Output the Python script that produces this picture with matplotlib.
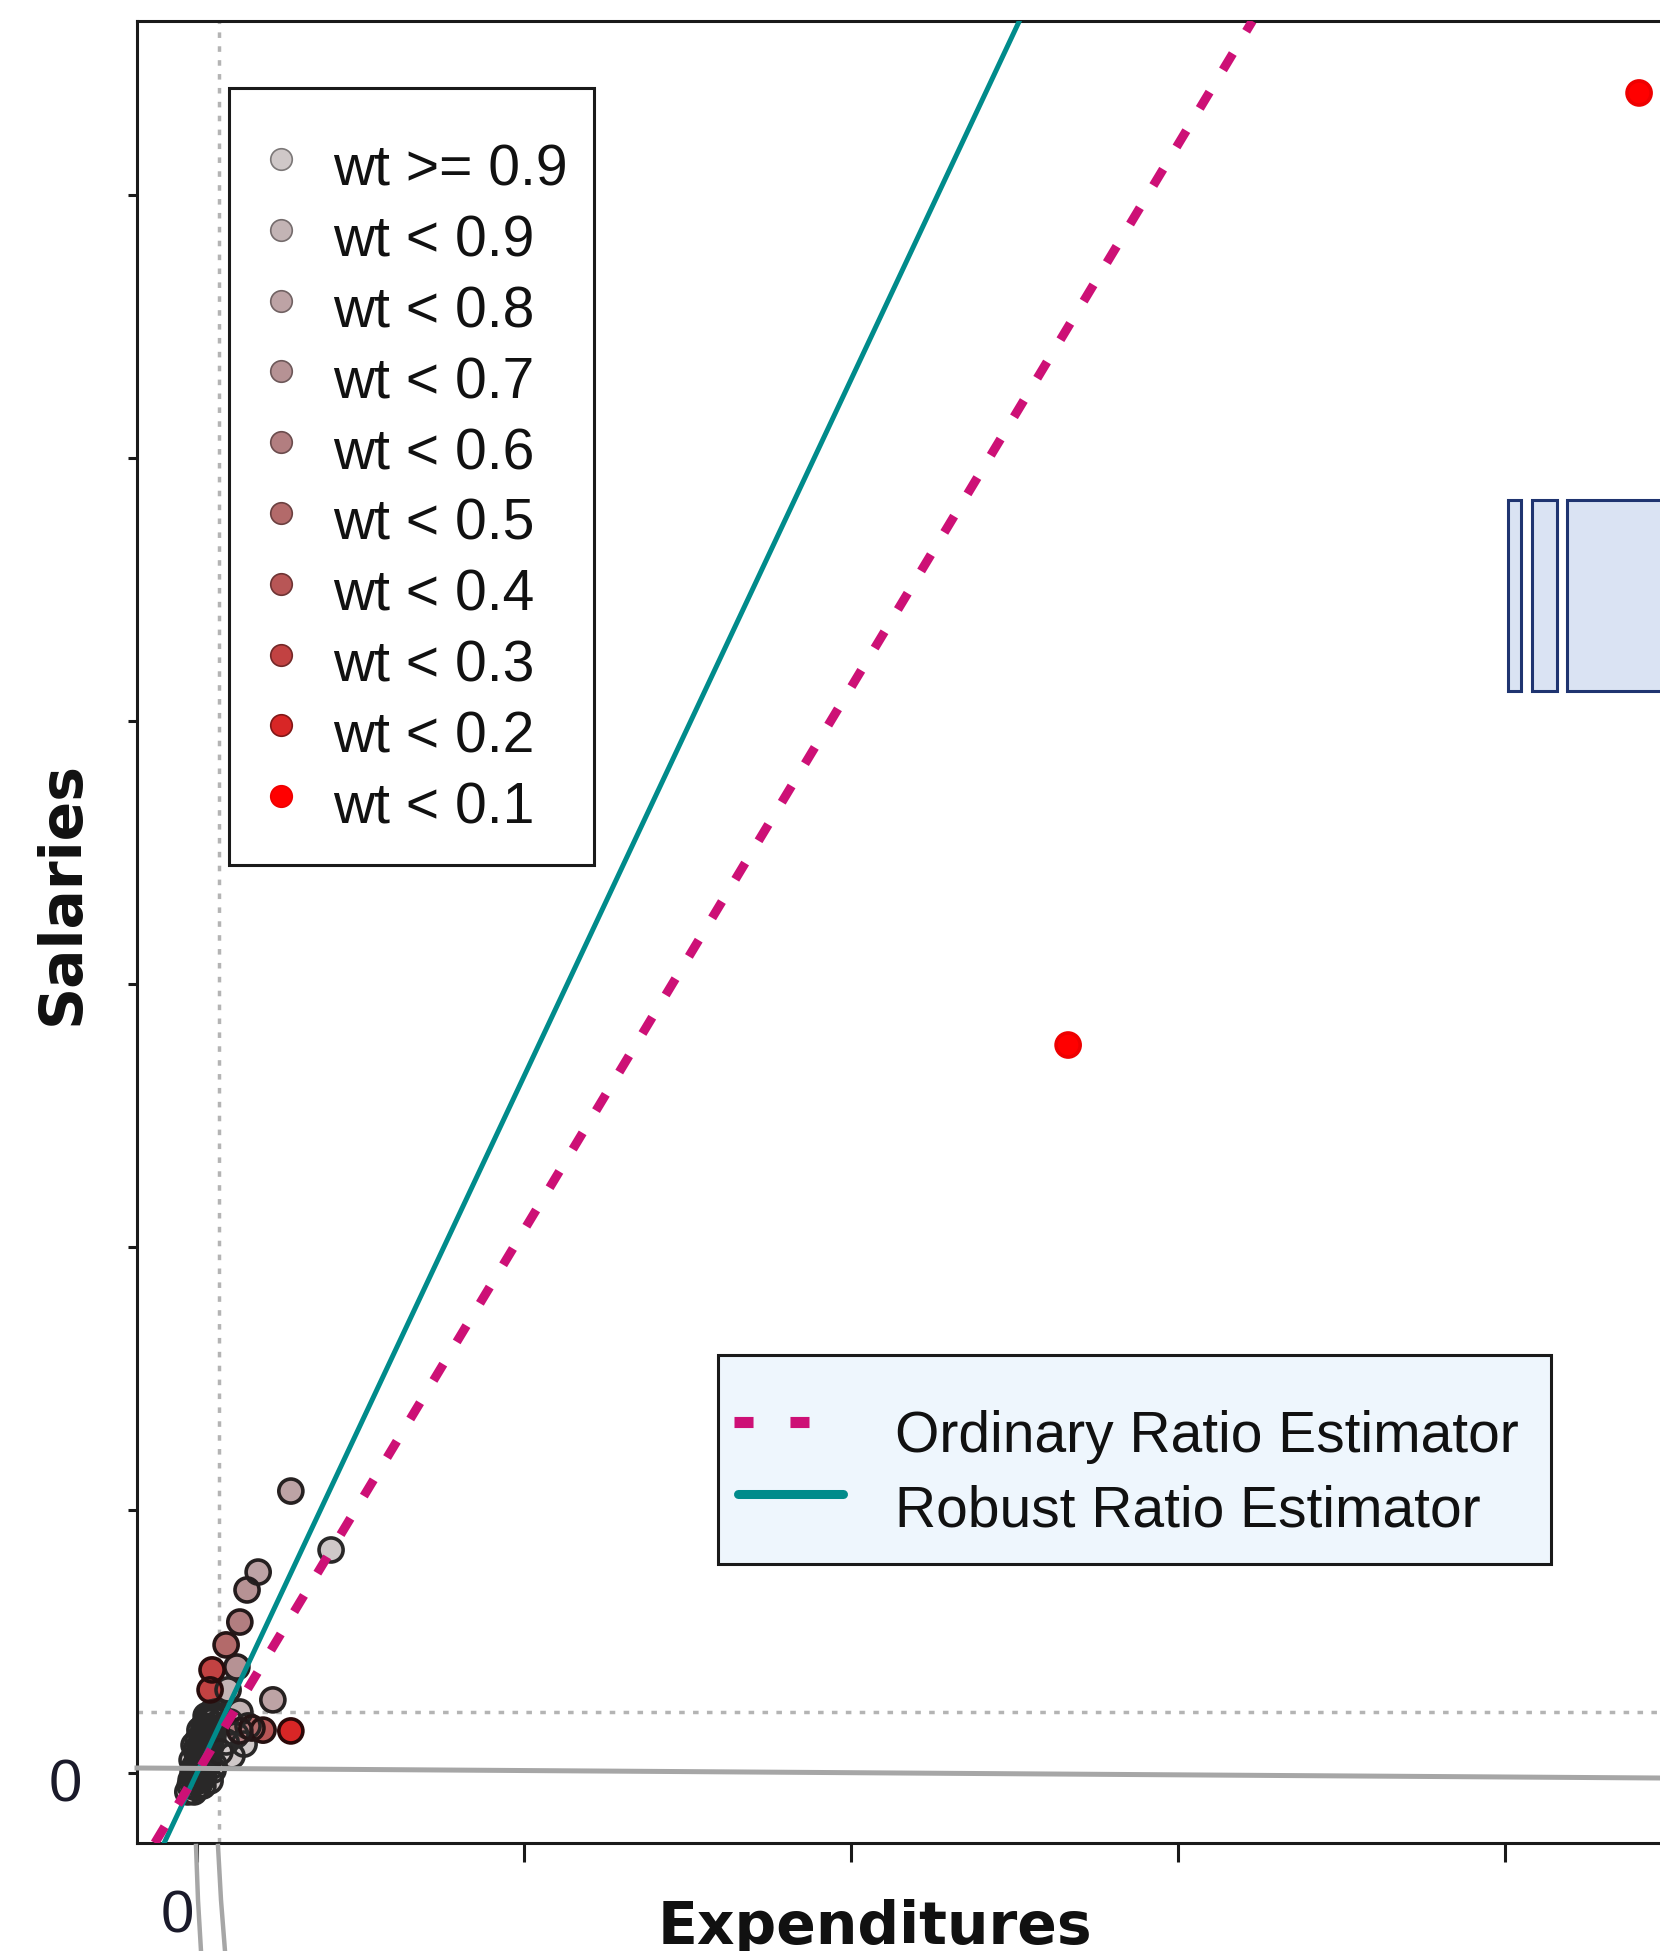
import matplotlib
matplotlib.use("Agg")
import matplotlib.pyplot as plt
import matplotlib.transforms as mtransforms
from matplotlib.lines import Line2D
from matplotlib.patches import Rectangle
import numpy as np

plt.rcParams['lines.scale_dashes'] = False

# ---- data (expenditures / salaries, in tick units) ----
weight_labels = ['wt >= 0.9', 'wt < 0.9', 'wt < 0.8', 'wt < 0.7', 'wt < 0.6',
                 'wt < 0.5', 'wt < 0.4', 'wt < 0.3', 'wt < 0.2', 'wt < 0.1']
weight_colors = ['#cfc8c8', '#c3b4b5', '#bda3a5', '#b69294', '#b27e80',
                 '#b36a6a', '#b85656', '#c24242', '#d82626', '#ff0000']

# small firms packed around the origin
cluster_x = [-0.003, 0.012, -0.012, 0.006, 0.021, -0.006, 0.012, 0.028, 0.003, 0.018,
             0.034, 0.009, 0.024, 0.040, 0.015, 0.031, 0.046, 0.021, 0.037, 0.052,
             0.028, 0.043, 0.058, -0.021, 0.000, 0.018, -0.015, -0.009,
             0.006, -0.009, 0.021, 0.000, 0.015, 0.031, 0.006, 0.021, 0.037, 0.012,
             0.028, 0.043, 0.018, 0.034, 0.049, 0.024, 0.040, 0.055, 0.031, 0.046,
             0.061, -0.018, -0.012, -0.003, 0.003, 0.009, -0.028, -0.009, 0.040, 0.049]
cluster_y = [-0.034, -0.027, -0.011, 0.004, 0.011, 0.027, 0.038, 0.049, 0.065, 0.080,
             0.087, 0.103, 0.118, 0.125, 0.141, 0.156, 0.163, 0.179, 0.194, 0.202,
             0.217, 0.228, 0.232, -0.049, -0.057, -0.049, 0.049, 0.106,
             -0.046, -0.023, -0.015, 0.015, 0.023, 0.030, 0.053, 0.061, 0.068, 0.091,
             0.099, 0.106, 0.129, 0.137, 0.144, 0.167, 0.175, 0.183, 0.205, 0.213,
             0.217, -0.027, 0.011, 0.087, 0.125, 0.163, -0.072, -0.072, -0.030, 0.011]
cluster_cls = [0] * len(cluster_x)

light_x = [0.101, 0.131, 0.119, 0.156, 0.089, 0.144, 0.070, 0.107, 0.052]
light_y = [0.194, 0.232, 0.144, 0.179, 0.118, 0.110, 0.080, 0.065, 0.030]
light_cls = [0, 1, 0, 1, 0, 0, 1, 0, 0]

other_x = [0.122, 0.095, 0.287, 0.410, 0.187, 0.153, 0.131, 0.089, 0.046, 0.040,
           0.232, 0.287, 0.202, 0.168, 0.131, 2.664, 4.410]
other_y = [0.403, 0.316, 1.072, 0.848, 0.764, 0.696, 0.574, 0.487, 0.392, 0.316,
           0.278, 0.160, 0.163, 0.171, 0.160, 2.768, 6.388]
other_cls = [3, 1, 2, 0, 2, 3, 4, 5, 7, 7, 2, 8, 6, 5, 4, 9, 9]

exp_x = np.array(cluster_x + light_x + other_x)
sal_y = np.array(cluster_y + light_y + other_y)
wt_cls = np.array(cluster_cls + light_cls + other_cls)

ratio_ordinary = 2.064
ratio_robust = 2.649
median_x = 0.067
median_y = 0.232

x_ticks = [0, 1, 2, 3, 4]
y_ticks = [0, 1, 2, 3, 4, 5, 6]

# ---- figure ----
W, H = 1660, 1951
fig = plt.figure(figsize=(W / 100, H / 100), dpi=100)


def fx(px):
    return px / W


def fy(py):
    return 1 - py / H


ax = fig.add_axes([fx(137), fy(1843), (W - 137) / W, (1843 - 21) / H])
ax.set_xlim(-60 / 327, (W - 197) / 327)
ax.set_ylim(-70 / 263, (1773 - 21) / 263)

for side in ['left', 'bottom', 'top']:
    ax.spines[side].set_linewidth(2.2)
    ax.spines[side].set_color('#1a1a1a')
ax.spines['right'].set_visible(False)

ax.set_xticks(x_ticks)
ax.set_xticklabels(['0'] + [''] * (len(x_ticks) - 1))
ax.set_yticks(y_ticks)
ax.set_yticklabels(['0'] + [''] * (len(y_ticks) - 1))
ax.tick_params(axis='x', length=13.5, width=2.2, pad=20, labelsize=43,
               color='#1a1a1a', labelcolor='#1a1a2a')
ax.tick_params(axis='y', length=6.5, width=2.2, pad=33, labelsize=43,
               color='#1a1a1a', labelcolor='#1a1a2a')
for lab in ax.get_xticklabels():
    lab.set_fontfamily('Liberation Sans')
    lab.set_transform(lab.get_transform() + mtransforms.ScaledTranslation(-0.2, 0, fig.dpi_scale_trans))
for lab in ax.get_yticklabels():
    lab.set_fontfamily('Liberation Sans')
    lab.set_transform(lab.get_transform() + mtransforms.ScaledTranslation(0, -0.07, fig.dpi_scale_trans))

# dotted reference lines
ax.axvline(median_x, color='#b4b4b4', lw=2.5, dashes=(4, 6), zorder=1)
ax.axhline(median_y, color='#b4b4b4', lw=2.5, dashes=(4, 6), zorder=1)

# points: fills first, then all outlines on top (dense cluster turns dark)
fills = np.array([matplotlib.colors.to_rgb(weight_colors[c]) for c in wt_cls])
edges = fills * 0.2
edges[wt_cls == 9] = matplotlib.colors.to_rgb('#ee0000')
ax.scatter(exp_x, sal_y, s=300, c=fills, edgecolors='none', zorder=3)
ax.scatter(exp_x, sal_y, s=300, facecolors='none', edgecolors=edges, linewidths=2.6, zorder=3.1)

# ratio estimator lines
ax.axline((0, 0), slope=ratio_robust, color='#008b8b', lw=3.6, zorder=4)
ax.axline((0, 0), slope=ratio_ordinary, color='#cd1076', lw=6.5,
          dashes=(13.7, 18.7), dash_capstyle='butt', zorder=5)

# axis titles
fig.text(fx(62), fy(893), 'Salaries', rotation=90, ha='center', va='center',
         fontsize=42, fontweight='bold', family='DejaVu Sans', color='#111111')
fig.text(fx(875), fy(1944), 'Expenditures', ha='center', va='baseline',
         fontsize=42, fontweight='bold', family='DejaVu Sans', color='#111111')

# weight legend
fig.add_artist(Rectangle((fx(229), fy(865)), (594 - 229) / W, (865 - 88) / H,
                         transform=fig.transFigure, facecolor='white',
                         edgecolor='#1a1a1a', lw=2.2, zorder=10))
for i, (lab, col) in enumerate(zip(weight_labels, weight_colors)):
    yrow = 159 + 70.8 * i
    ec = '#ee0000' if i == 9 else tuple(np.array(matplotlib.colors.to_rgb(col)) * 0.6)
    fig.add_artist(Line2D([fx(281)], [fy(yrow)], marker='o', ms=15.5, mfc=col, mec=ec,
                          mew=1.2, ls='none', transform=fig.transFigure, zorder=11))
    fig.text(fx(333), fy(yrow + 27), lab, va='baseline', ha='left', fontsize=41,
             family='Liberation Sans', color='#111111', zorder=11)

# estimator legend
fig.add_artist(Rectangle((fx(718), fy(1564)), (1551 - 718) / W, (1564 - 1355) / H,
                         transform=fig.transFigure, facecolor='#eef6fd',
                         edgecolor='#1a1a1a', lw=2.2, zorder=10))
fig.add_artist(Line2D([fx(734), fx(811)], [fy(1422), fy(1422)], color='#cd1076', lw=8,
                      dashes=(13.7, 26.6), dash_capstyle='butt',
                      transform=fig.transFigure, zorder=11))
fig.add_artist(Line2D([fx(738), fx(843)], [fy(1494), fy(1494)], color='#008b8b', lw=6.5,
                      solid_capstyle='round', transform=fig.transFigure, zorder=11))
fig.text(fx(895), fy(1452), 'Ordinary Ratio Estimator', va='baseline', ha='left',
         fontsize=41, family='Liberation Sans', color='#111111', zorder=11)
fig.text(fx(895), fy(1526), 'Robust Ratio Estimator', va='baseline', ha='left',
         fontsize=41, family='Liberation Sans', color='#111111', zorder=11)

# overlay boxes at right edge
for x0, x1 in [(1508, 1521), (1532, 1557), (1567, 1700)]:
    fig.add_artist(Rectangle((fx(x0), fy(691)), (x1 - x0) / W, (691 - 500) / H,
                             transform=fig.transFigure, facecolor='#dae3f3',
                             edgecolor='#1f3470', lw=2.2, zorder=12))

# gray annotation strokes
fig.add_artist(Line2D([fx(137), fx(1660)], [fy(1768), fy(1778)], color='#a6a6a6', lw=3.6,
                      transform=fig.transFigure, zorder=13))
for xs in [(196, 198, 201), (218, 221, 225)]:
    fig.add_artist(Line2D([fx(v) for v in xs], [fy(1846), fy(1900), fy(1951)],
                          color='#a6a6a6', lw=3.2, transform=fig.transFigure, zorder=13))

fig.savefig('out.png', dpi=100)
